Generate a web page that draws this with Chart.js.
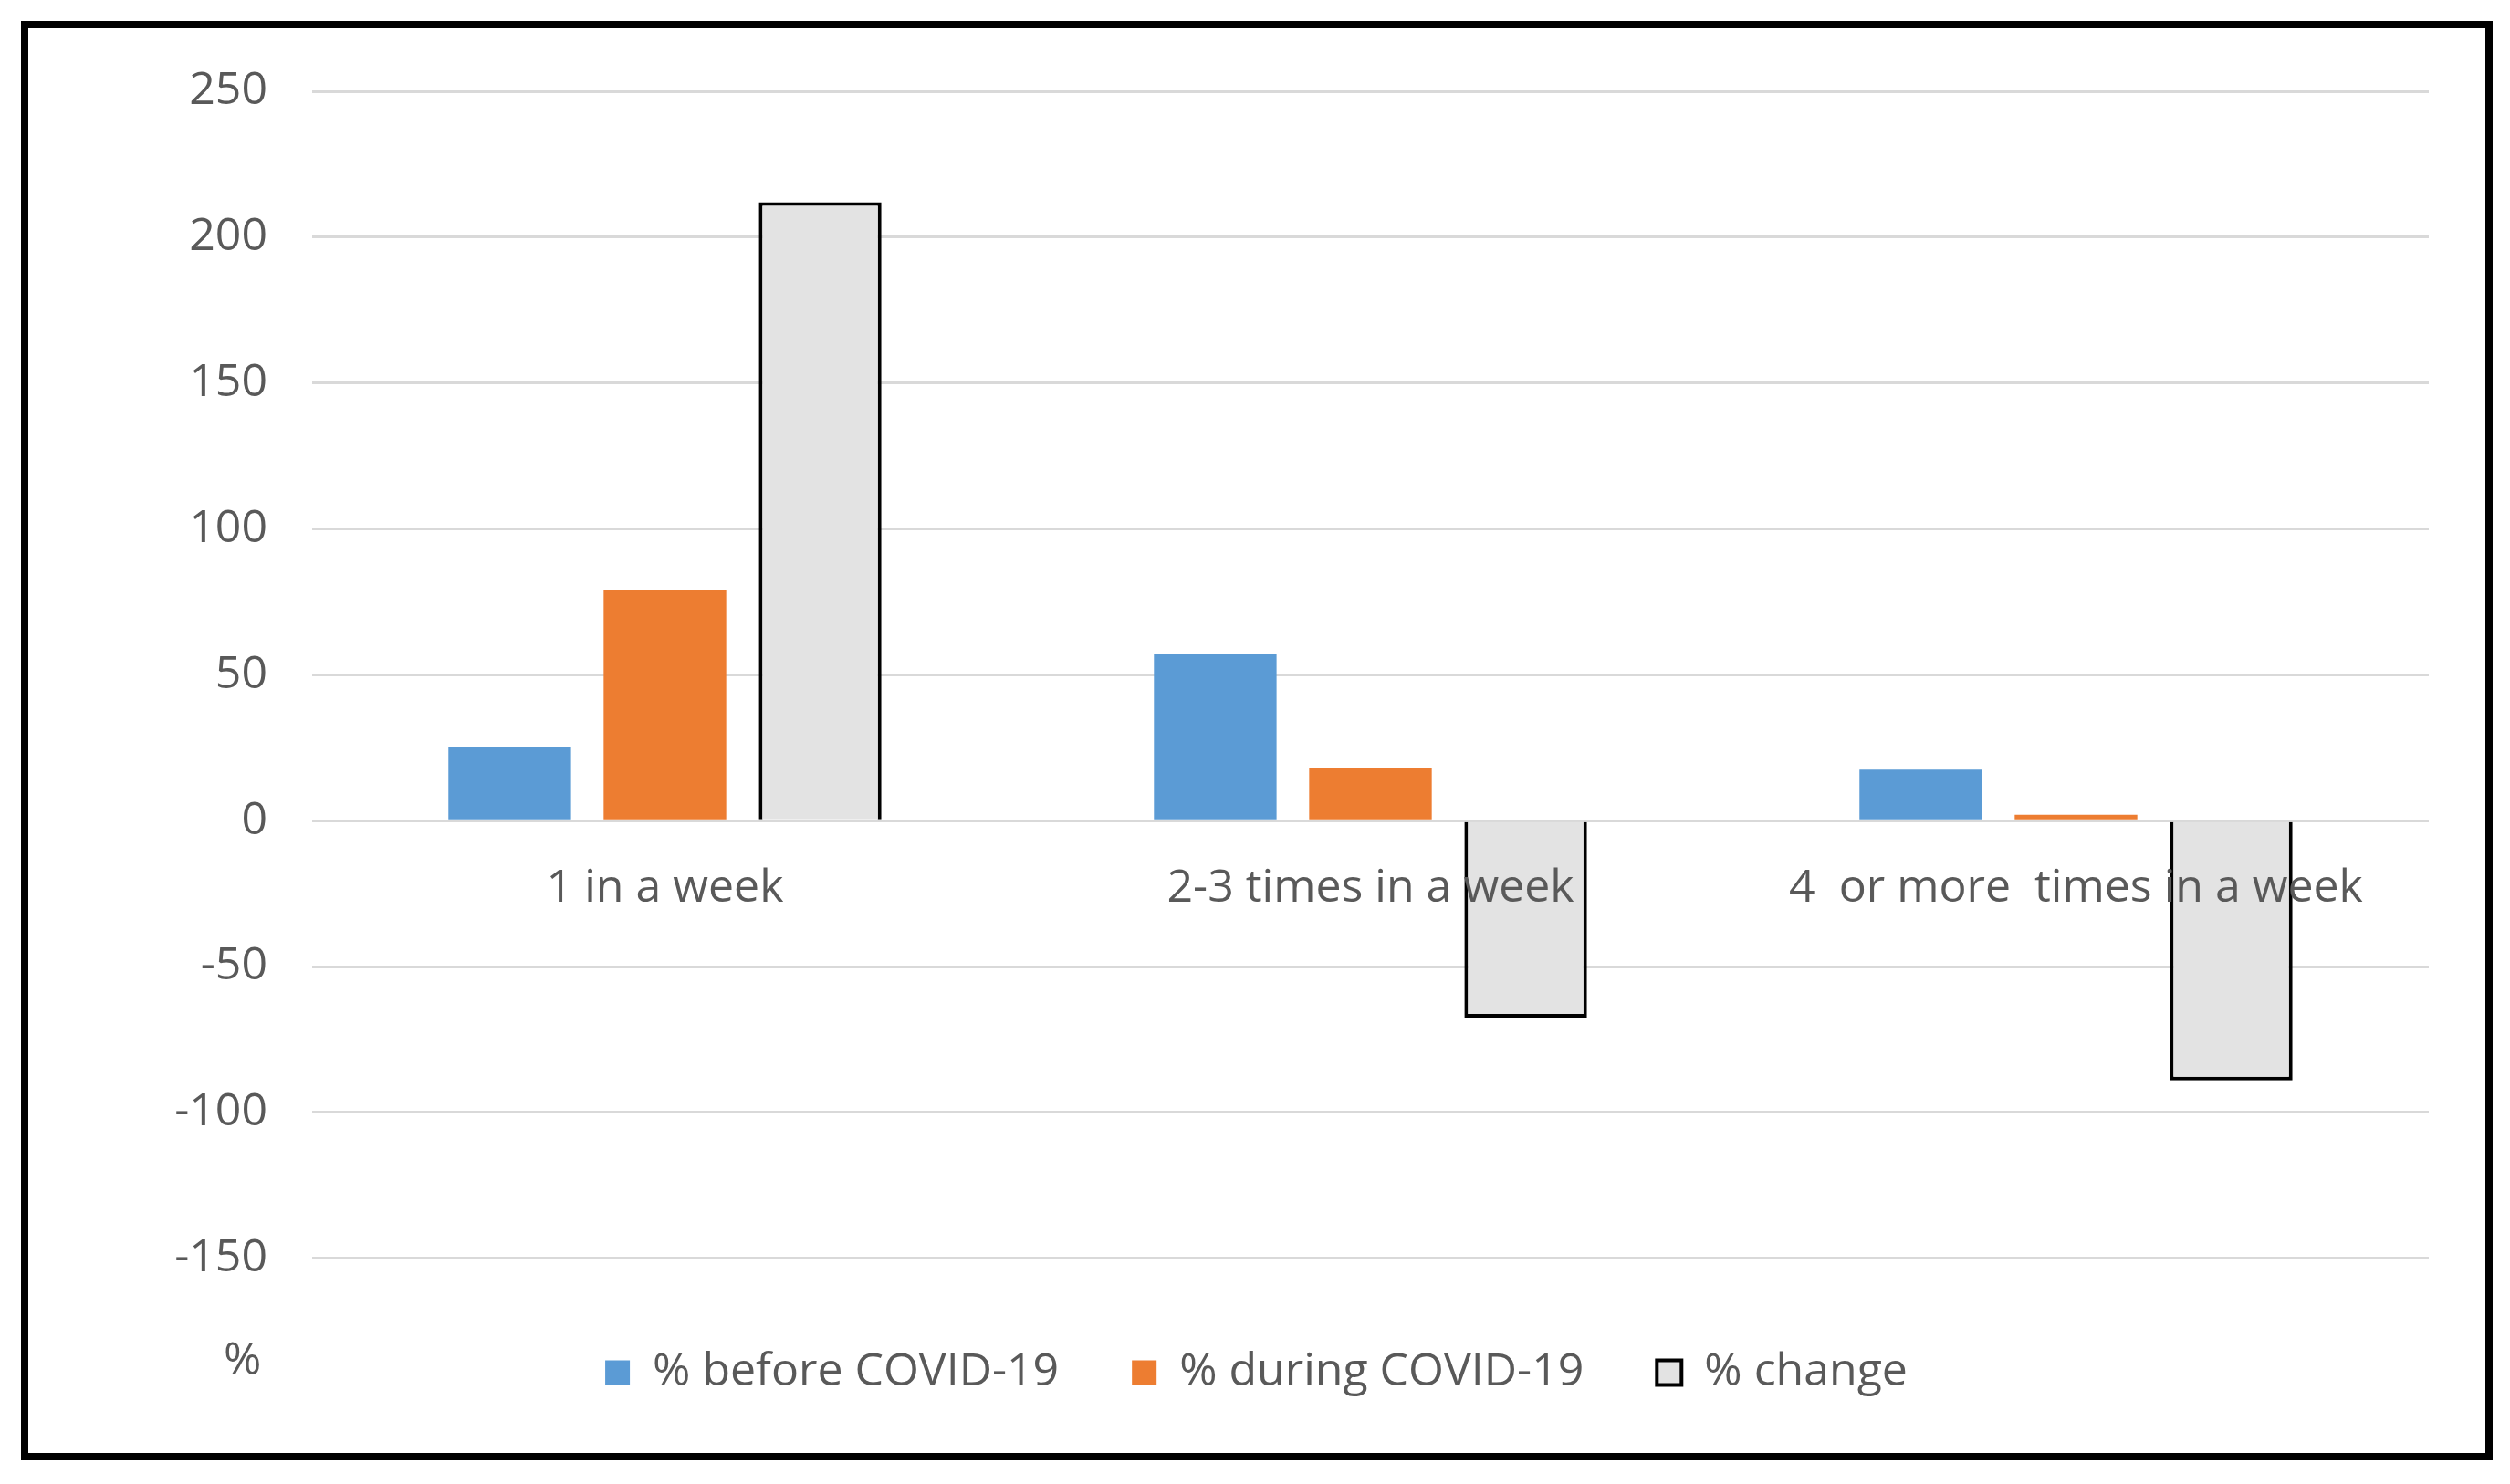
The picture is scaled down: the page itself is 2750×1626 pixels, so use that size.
<!DOCTYPE html>
<html>
<head>
<meta charset="utf-8">
<script src="https://cdn.jsdelivr.net/npm/chart.js@4.4.1/dist/chart.umd.min.js"></script>
<style>
  html, body { margin: 0; padding: 0; background: #fff; }
  #frame {
    position: absolute; left: 23px; top: 23px; width: 2708px; height: 1577px;
    border: 8px solid #000; box-sizing: border-box; background: #fff;
  }
  #wrap { position: absolute; left: 0; top: 0; width: 2692px; height: 1561px; }
  #unit {
    position: absolute; left: 214px; top: 1426px; width: 40px; text-align: center;
    font-family: "Open Sans", sans-serif; font-size: 50px; line-height: 60px; color: #595959;
  }
</style>
</head>
<body>
<div id="frame">
  <div id="wrap"><canvas id="freqChart"></canvas></div>
  <div id="unit">%</div>
</div>
<script>
// kategoriyalar va qiymatlar (rasmdan o'qilgan)
const categories = ['1 in a week', '2-3 times in a week', '4  or more  times in a week'];
const beforeCovid = [25.3, 57, 17.5];
const duringCovid = [79, 18, 2];
const changePct = [212, -67.5, -89];
const yTicks = [250, 200, 150, 100, 50, 0, -50, -100, -150];

const textColor = '#595959';
const fontFamily = '"Open Sans", sans-serif';

const ctx = document.getElementById('freqChart').getContext('2d');

new Chart(ctx, {
    type: 'bar',
    data: {
        labels: categories,
        datasets: [
            {
                label: '% before COVID-19',
                data: beforeCovid,
                backgroundColor: '#5B9BD5',
                borderWidth: 0
            },
            {
                label: '% during COVID-19',
                data: duringCovid,
                backgroundColor: '#ED7D31',
                borderWidth: 0
            },
            {
                label: '% change',
                data: changePct,
                backgroundColor: '#E3E3E3',
                borderColor: '#000000',
                borderWidth: 4
            }
        ]
    },
    options: {
        responsive: true,
        maintainAspectRatio: false,
        animation: false,
        categoryPercentage: 0.66,
        barPercentage: 0.79,
        layout: {
            padding: { left: 61, right: 62, top: 69, bottom: 53 }
        },
        plugins: {
            tooltip: { enabled: false },
            legend: {
                position: 'bottom',
                // bo'sh sarlavha faqat legendani biroz pastga suradi
                title: { display: true, text: ' ', font: { size: 1 }, padding: { top: 19, bottom: 0 } },
                labels: {
                    color: textColor,
                    font: { family: fontFamily, size: 50 },
                    boxWidth: 27,
                    boxHeight: 27,
                    padding: 80
                }
            }
        },
        scales: {
            x: {
                position: { y: 0 },
                grid: { display: false, drawTicks: false },
                border: { display: false },
                ticks: {
                    z: 1,
                    color: textColor,
                    font: { family: fontFamily, size: 50 },
                    padding: 44,
                    maxRotation: 0,
                    autoSkip: false
                }
            },
            y: {
                min: -150,
                max: 250,
                afterBuildTicks: function (scale) {
                    scale.ticks = yTicks.map(function (v) { return { value: v }; });
                },
                grid: { color: '#D9D9D9', lineWidth: 3, drawTicks: false },
                border: { display: false },
                ticks: {
                    color: textColor,
                    font: { family: fontFamily, size: 50 },
                    padding: 49
                },
                afterFit: function (scale) {
                    scale.width = 250;
                    scale.paddingTop = 0;
                    scale.paddingBottom = 0;
                }
            }
        }
    }
});
</script>
</body>
</html>
